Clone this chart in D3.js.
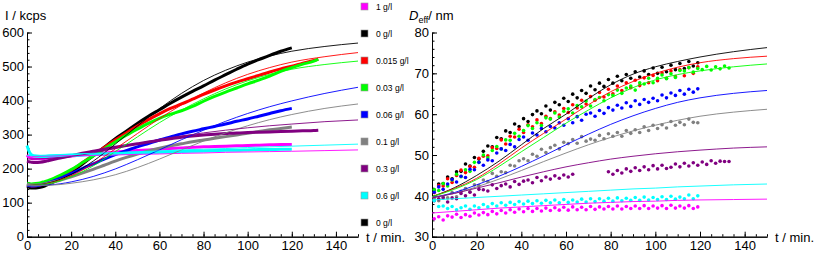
<!DOCTYPE html>
<html>
<head>
<meta charset="utf-8">
<script src="https://cdn.jsdelivr.net/npm/d3@7"></script>
<style>
  body { margin: 0; background: #fff; }
  svg { display: block; font-family: "Liberation Sans", Arial, sans-serif; }
  .axis path, .axis line { stroke: #000; stroke-width: 1; }
  .axis text { font-size: 13px; fill: #000; font-family: "Liberation Sans", Arial, sans-serif; }
</style>
</head>
<body>
<div id="chart"></div>
<script>
// legend / series
var seriesNames = ['1 g/l', '0 g/l', '0.015 g/l', '0.03 g/l', '0.06 g/l', '0.1 g/l', '0.3 g/l', '0.6 g/l', '0 g/l'];
var seriesColors = ['#ff00ff', '#000000', '#ff0000', '#00ff00', '#0000ff', '#808080', '#800080', '#00ffff', '#000000'];

// fit curves share these times
var fitT = [0, 10, 20, 30, 40, 50, 60, 70, 80, 90, 100, 110, 120, 135, 150];

// ---- left panel: intensity I / kcps ----
var leftT = [0, 1, 2, 4, 6, 8, 10, 15, 20, 25, 30, 35, 40, 45, 50, 55, 60, 65, 70, 75, 80, 85, 90, 95, 100, 105, 110, 115, 120];
var leftTLong = leftT.concat([125, 130, 132]);

var leftMagenta = [240, 233, 230, 229, 229, 230, 231, 234, 237, 240, 243, 246, 249, 251, 253, 255, 257, 259, 261, 263, 264, 265, 266, 267, 268, 269, 270, 271, 271];
var leftBlack = [147, 145, 143, 143, 145, 149, 155, 170, 190, 213, 238, 263, 288, 310, 333, 354, 373, 392, 410, 427, 443, 460, 476, 492, 507, 520, 533, 545, 555];
var leftRed = [152, 150, 149, 150, 152, 156, 161, 176, 195, 217, 240, 262, 284, 305, 325, 344, 361, 377, 390, 404, 418, 431, 443, 454, 464, 474, 484, 493, 501, 510, 518, 521];
var leftGreen = [157, 156, 155, 156, 158, 162, 166, 180, 197, 217, 237, 258, 278, 298, 316, 333, 348, 360, 370, 383, 398, 412, 425, 437, 449, 460, 472, 486, 497, 507, 516, 522];
var leftBlue = [152, 150, 149, 150, 152, 155, 159, 171, 185, 200, 214, 228, 241, 253, 264, 274, 284, 293, 302, 310, 317, 324, 331, 339, 346, 354, 362, 370, 377];
var leftGray = [155, 153, 152, 152, 153, 155, 158, 166, 176, 187, 198, 210, 222, 233, 243, 252, 260, 267, 273, 279, 284, 289, 294, 299, 304, 309, 314, 318, 322];
var leftPurple = [222, 220, 219, 218, 219, 221, 224, 231, 238, 245, 251, 257, 263, 268, 273, 278, 283, 288, 292, 296, 299, 301, 303, 305, 306, 307, 308, 309, 310, 311, 312, 313];
var leftCyan = [268, 250, 241, 237, 236, 236, 237, 238, 239, 240, 241, 242, 244, 245, 246, 247, 248, 249, 250, 251, 252, 253, 254, 254, 255, 256, 256, 257, 257];

var leftFitBlack = [150, 158, 183, 222, 272, 325, 376, 421, 459, 489, 513, 531, 545, 559, 569];
var leftFitRed = [150, 157, 179, 214, 258, 303, 347, 387, 422, 452, 477, 497, 513, 529, 541];
var leftFitGreen = [150, 156, 176, 208, 250, 293, 335, 372, 405, 434, 458, 477, 492, 506, 516];
var leftFitBlue = [150, 152, 161, 177, 199, 226, 255, 285, 313, 339, 362, 382, 399, 421, 439];
var leftFitGray = [150, 151, 157, 167, 182, 203, 228, 255, 281, 305, 326, 344, 359, 377, 390];
var leftFitPurple = [228, 230, 236, 246, 259, 273, 286, 296, 305, 313, 320, 326, 331, 338, 343];
var leftFitCyan = [238, 240, 243, 245, 247, 250, 252, 255, 257, 259, 262, 264, 266, 269, 272];
var leftFitMagenta = [236, 237, 238, 239, 240, 242, 243, 245, 246, 248, 249, 250, 251, 253, 255];

// ---- right panel: D_eff / nm ----
var rightT = [1, 3, 5, 7, 9, 11, 13, 15, 17, 19, 21, 23, 25, 27, 29, 31, 33, 35, 37, 39, 41, 43, 45, 47, 49, 51, 53, 55, 57, 59,
              61, 63, 65, 67, 69, 71, 73, 75, 77, 79, 81, 83, 85, 87, 89, 91, 93, 95, 97, 99, 101, 103, 105, 107, 109, 111, 113, 115, 117, 119];
var rightTLong = rightT.concat([121, 123, 125, 127, 129, 131, 133]);

var rightMagenta = [34.4, 34.9, 34.1, 35.1, 34.8, 35.5, 34.7, 35.4, 35.0, 35.8, 35.3, 35.9, 35.4, 36.2, 35.6, 36.4, 35.8, 36.6, 36.0, 36.8,
                    36.1, 36.9, 36.2, 36.9, 36.3, 37.0, 36.4, 37.1, 36.5, 37.2, 36.5, 37.3, 36.6, 37.2, 36.6, 37.4, 36.7, 37.3, 36.8, 37.4,
                    36.8, 37.5, 36.8, 37.4, 36.9, 37.5, 36.9, 37.6, 36.9, 37.5, 37.0, 37.6, 36.9, 37.7, 37.0, 37.5, 37.0, 37.6, 36.9, 37.3];
var rightBlack = [41.5, 42.9, 43.0, 44.6, 44.2, 45.9, 46.0, 47.8, 47.3, 49.4, 49.0, 50.9, 52.2, 52.0, 54.3, 54.0, 55.9, 55.5, 57.6, 57.0,
                  58.9, 58.2, 59.9, 60.8, 60.1, 62.0, 61.0, 62.9, 62.3, 63.9, 63.1, 64.9, 64.0, 65.8, 65.1, 66.9, 66.0, 67.6, 66.8, 68.5,
                  67.6, 69.3, 68.2, 69.7, 68.8, 70.4, 69.1, 70.6, 69.7, 71.3, 70.0, 71.5, 70.4, 72.0, 70.9, 72.4, 71.2, 72.9, 71.8, 72.6];
var rightRed = [40.8, 42.5, 42.4, 44.2, 43.3, 45.0, 46.3, 45.7, 47.2, 47.0, 49.2, 49.7, 49.8, 51.8, 51.6, 53.7, 52.7, 54.6, 54.4, 56.3,
                55.5, 57.4, 56.9, 58.6, 57.7, 59.5, 58.9, 60.6, 59.8, 61.4, 60.4, 62.3, 61.5, 63.4, 62.5, 64.3, 63.4, 65.3, 64.2, 66.1,
                65.0, 66.9, 65.8, 67.7, 66.5, 68.3, 67.0, 68.9, 67.7, 69.5, 68.2, 70.1, 68.8, 70.6, 69.2, 70.9, 69.4, 71.4, 70.0, 71.6];
var rightGreen = [41.5, 41.3, 43.0, 42.4, 43.9, 45.3, 44.7, 46.4, 46.0, 48.2, 48.2, 50.0, 49.3, 51.1, 52.1, 51.5, 53.7, 53.6, 55.3, 54.6,
                  56.0, 57.2, 56.5, 57.9, 57.2, 59.1, 58.8, 60.3, 59.3, 60.7, 61.3, 60.3, 62.1, 61.8, 63.2, 62.0, 63.6, 64.1, 63.3, 64.8,
                  64.6, 65.9, 65.1, 66.4, 66.9, 65.9, 67.7, 67.4, 68.8, 67.7, 68.8, 69.6, 68.7, 69.9, 69.0, 70.7, 70.6, 71.4, 70.3, 71.2,
                  70.9, 71.7, 70.8, 71.6, 71.1, 71.8, 71.3];
var rightBlue = [40.9, 42.2, 41.6, 42.9, 44.0, 43.4, 44.8, 44.5, 46.5, 46.4, 48.2, 47.5, 48.8, 48.6, 50.5, 51.5, 51.1, 52.6, 52.0, 53.8,
                 54.4, 53.6, 55.4, 54.9, 56.5, 55.7, 57.0, 56.6, 57.9, 57.3, 58.9, 57.9, 59.4, 58.5, 60.0, 60.3, 59.5, 60.9, 60.2, 61.6,
                 61.0, 62.2, 61.5, 62.8, 61.9, 63.3, 62.4, 63.6, 62.9, 63.9, 63.3, 64.7, 64.0, 65.2, 64.6, 65.8, 64.9, 66.1, 65.4, 66.2];
var rightGray = [39.5, 38.8, 39.7, 39.5, 40.8, 39.8, 41.1, 41.8, 41.0, 42.7, 42.5, 43.9, 43.5, 45.5, 44.8, 45.9, 45.7, 47.5, 47.3, 48.6,
                 49.1, 48.6, 50.2, 49.7, 51.4, 50.6, 51.8, 52.4, 51.5, 53.1, 52.8, 53.8, 52.9, 54.5, 53.4, 53.9, 53.6, 54.8, 54.0, 55.2,
                 54.6, 55.5, 54.6, 56.0, 55.3, 56.2, 55.5, 56.9, 56.0, 57.3, 56.5, 57.4, 56.6, 58.2, 57.3, 58.0, 57.4, 58.8, 58.0, 57.9];
var rightPurple = [38.8, 39.3, 39.5, 38.5, 39.5, 39.3, 40.6, 40.0, 40.9, 40.2, 41.6, 41.5, 41.2, 42.7, 41.8, 42.5, 42.9, 42.2, 43.5, 42.8,
                   43.6, 43.9, 43.2, 44.5, 43.7, 44.6, 44.1, 44.9, 44.3, 45.1, 44.6, 45.3, null, null, null, null, null, null, null, 45.9,
                   45.3, 46.2, 45.6, 46.6, 46.0, 46.9, 46.2, 47.1, 46.4, 47.4, 46.6, 47.5, 46.7, 47.0, 47.8, 47.1, 48.0, 47.3, 48.1, 47.5,
                   48.3, 47.7, 48.6, 48.0, 48.5, 48.4, 48.4];
var rightCyan = [38.8, 37.4, 37.5, 36.9, 37.4, 36.6, 37.1, 37.5, 36.7, 37.5, 37.1, 37.9, 37.3, 38.1, 37.5, 38.3, 37.7, 38.4, 37.9, 38.6,
                 38.0, 38.7, 38.1, 38.8, 38.2, 38.9, 38.3, 39.0, 38.3, 39.1, 38.4, 39.0, 38.5, 39.2, 38.5, 39.3, 38.6, 39.3, 38.7, 39.4,
                 38.7, 39.5, 38.8, 39.4, 38.9, 39.6, 38.9, 39.7, 39.0, 39.6, 39.1, 39.8, 39.1, 39.9, 39.2, 39.7, 39.3, 40.2, 39.3, 40.0];

var rightFitBlack = [39.8, 42, 45, 48.5, 52.5, 56.5, 60, 63.8, 67.2, 69.8, 71.6, 72.9, 74, 75.3, 76.3];
var rightFitRed = [39.8, 41.8, 44.3, 47.8, 51.7, 55.3, 58.8, 62.3, 65.5, 68, 70, 71.5, 72.6, 73.6, 74.2];
var rightFitGreen = [39.8, 41.6, 44, 47.2, 50.8, 54.3, 57.8, 61, 64, 66.5, 68.4, 69.7, 70.6, 71.6, 72.3];
var rightFitBlue = [39.6, 40.8, 42.7, 44.8, 47.2, 49.8, 52.5, 55.1, 57.5, 59.6, 61.4, 62.9, 64, 65.1, 65.8];
var rightFitGray = [39.6, 40.6, 42.2, 44.1, 46.2, 48.4, 50.5, 52.5, 54.3, 55.9, 57.3, 58.5, 59.5, 60.5, 61.2];
var rightFitPurple = [39.5, 40.6, 41.9, 43.2, 44.6, 45.9, 47.1, 48.1, 49, 49.7, 50.3, 50.8, 51.2, 51.7, 52];
var rightFitCyan = [39.0, 39.3, 39.6, 39.9, 40.2, 40.5, 40.8, 41.1, 41.4, 41.7, 41.9, 42.2, 42.4, 42.7, 42.9];
var rightFitMagenta = [35.8, 36.2, 36.6, 37, 37.3, 37.6, 37.9, 38.2, 38.4, 38.6, 38.7, 38.9, 39, 39.1, 39.2];

var width = 817, height = 257;

var svg = d3.select('#chart').append('svg')
    .attr('width', width)
    .attr('height', height);

function zip(ts, vs) {
  return ts.map(function(t, i) { return {t: t, v: vs[i]}; }).filter(function(d) { return d.v != null; });
}

function drawAxes(x, y, yMajor, yMinor) {
  var g = svg.append('g');
  var x0 = x.range()[0], y0 = y.range()[0];

  g.append('g').attr('class', 'axis')
      .attr('transform', 'translate(0,' + y0 + ')')
      .call(d3.axisBottom(x).tickValues(d3.range(0, 151, 5)).tickFormat('').tickSizeInner(-2.5).tickSizeOuter(0));
  g.append('g').attr('class', 'axis')
      .attr('transform', 'translate(0,' + y0 + ')')
      .call(d3.axisBottom(x).tickValues(d3.range(0, 141, 20)).tickSizeInner(-5).tickSizeOuter(0).tickPadding(4));

  g.append('g').attr('class', 'axis')
      .attr('transform', 'translate(' + x0 + ',0)')
      .call(d3.axisLeft(y).tickValues(yMinor).tickFormat('').tickSizeInner(-2.5).tickSizeOuter(0));
  g.append('g').attr('class', 'axis')
      .attr('transform', 'translate(' + x0 + ',0)')
      .call(d3.axisLeft(y).tickValues(yMajor).tickSizeInner(-5).tickSizeOuter(0).tickPadding(3));

  g.selectAll('.axis .domain').attr('stroke', '#000');

  svg.append('text')
      .attr('x', x.range()[1] + 8)
      .attr('y', y0 + 5)
      .attr('font-size', 13)
      .text('t / min.');
}

// left panel
var xL = d3.scaleLinear().domain([0, 150]).range([27, 358]);
var yL = d3.scaleLinear().domain([0, 600]).range([236.7, 32.5]);

drawAxes(xL, yL, d3.range(0, 601, 100), d3.range(0, 601, 20));

svg.append('text').attr('x', 5).attr('y', 20).attr('font-size', 13).text('I / kcps');

var leftData = [
  {c: seriesColors[0], d: zip(leftT, leftMagenta)},
  {c: seriesColors[1], d: zip(leftT, leftBlack)},
  {c: seriesColors[2], d: zip(leftTLong, leftRed)},
  {c: seriesColors[3], d: zip(leftTLong, leftGreen)},
  {c: seriesColors[4], d: zip(leftT, leftBlue)},
  {c: seriesColors[5], d: zip(leftT, leftGray)},
  {c: seriesColors[6], d: zip(leftTLong, leftPurple)},
  {c: seriesColors[7], d: zip(leftT, leftCyan)}
];
var leftFits = [
  {c: seriesColors[0], d: zip(fitT, leftFitMagenta)},
  {c: seriesColors[1], d: zip(fitT, leftFitBlack)},
  {c: seriesColors[2], d: zip(fitT, leftFitRed)},
  {c: seriesColors[3], d: zip(fitT, leftFitGreen)},
  {c: seriesColors[4], d: zip(fitT, leftFitBlue)},
  {c: seriesColors[5], d: zip(fitT, leftFitGray)},
  {c: seriesColors[6], d: zip(fitT, leftFitPurple)},
  {c: seriesColors[7], d: zip(fitT, leftFitCyan)}
];

var lineL = d3.line().x(function(d) { return xL(d.t); }).y(function(d) { return yL(d.v); }).curve(d3.curveMonotoneX);

svg.append('g').selectAll('path')
    .data(leftData)
  .enter().append('path')
    .attr('d', function(s) { return lineL(s.d); })
    .attr('fill', 'none')
    .attr('stroke', function(s) { return s.c; })
    .attr('stroke-width', 3);

svg.append('g').selectAll('path')
    .data(leftFits)
  .enter().append('path')
    .attr('d', function(s) { return lineL(s.d); })
    .attr('fill', 'none')
    .attr('stroke', function(s) { return s.c; })
    .attr('stroke-width', 0.9);

// legend
var legend = svg.append('g').selectAll('g')
    .data(seriesNames)
  .enter().append('g')
    .attr('transform', function(d, i) { return 'translate(361,' + (3 + i * 27) + ')'; });
legend.append('rect')
    .attr('width', 7).attr('height', 7)
    .attr('fill', function(d, i) { return seriesColors[i]; })
    .attr('stroke', '#999').attr('stroke-width', 0.6);
legend.append('text')
    .attr('x', 15).attr('y', 7)
    .attr('font-size', 8.5)
    .text(function(d) { return d; });

// right panel
var xR = d3.scaleLinear().domain([0, 150]).range([432, 767]);
var yR = d3.scaleLinear().domain([30, 80]).range([236.7, 32.5]);

drawAxes(xR, yR, d3.range(30, 81, 10), d3.range(30, 81, 2));

var dLabel = svg.append('text').attr('x', 409).attr('y', 20).attr('font-size', 13);
dLabel.append('tspan').attr('font-style', 'italic').text('D');
dLabel.append('tspan').attr('font-size', 9).attr('dy', 3).text('eff');
dLabel.append('tspan').attr('dy', -3).text('/ nm');

var rightData = [
  {c: seriesColors[0], d: zip(rightT, rightMagenta)},
  {c: seriesColors[1], d: zip(rightT, rightBlack)},
  {c: seriesColors[2], d: zip(rightT, rightRed)},
  {c: seriesColors[3], d: zip(rightTLong, rightGreen)},
  {c: seriesColors[4], d: zip(rightT, rightBlue)},
  {c: seriesColors[5], d: zip(rightT, rightGray)},
  {c: seriesColors[6], d: zip(rightTLong, rightPurple)},
  {c: seriesColors[7], d: zip(rightT, rightCyan)}
];
var rightFits = [
  {c: seriesColors[0], d: zip(fitT, rightFitMagenta)},
  {c: seriesColors[1], d: zip(fitT, rightFitBlack)},
  {c: seriesColors[2], d: zip(fitT, rightFitRed)},
  {c: seriesColors[3], d: zip(fitT, rightFitGreen)},
  {c: seriesColors[4], d: zip(fitT, rightFitBlue)},
  {c: seriesColors[5], d: zip(fitT, rightFitGray)},
  {c: seriesColors[6], d: zip(fitT, rightFitPurple)},
  {c: seriesColors[7], d: zip(fitT, rightFitCyan)}
];

var dots = svg.append('g').selectAll('g')
    .data(rightData)
  .enter().append('g')
    .attr('fill', function(s) { return s.c; });
dots.selectAll('circle')
    .data(function(s) { return s.d; })
  .enter().append('circle')
    .attr('cx', function(d) { return xR(d.t); })
    .attr('cy', function(d) { return yR(d.v); })
    .attr('r', 1.8);

var lineR = d3.line().x(function(d) { return xR(d.t); }).y(function(d) { return yR(d.v); }).curve(d3.curveMonotoneX);

svg.append('g').selectAll('path')
    .data(rightFits)
  .enter().append('path')
    .attr('d', function(s) { return lineR(s.d); })
    .attr('fill', 'none')
    .attr('stroke', function(s) { return s.c; })
    .attr('stroke-width', 0.9);
</script>
</body>
</html>
